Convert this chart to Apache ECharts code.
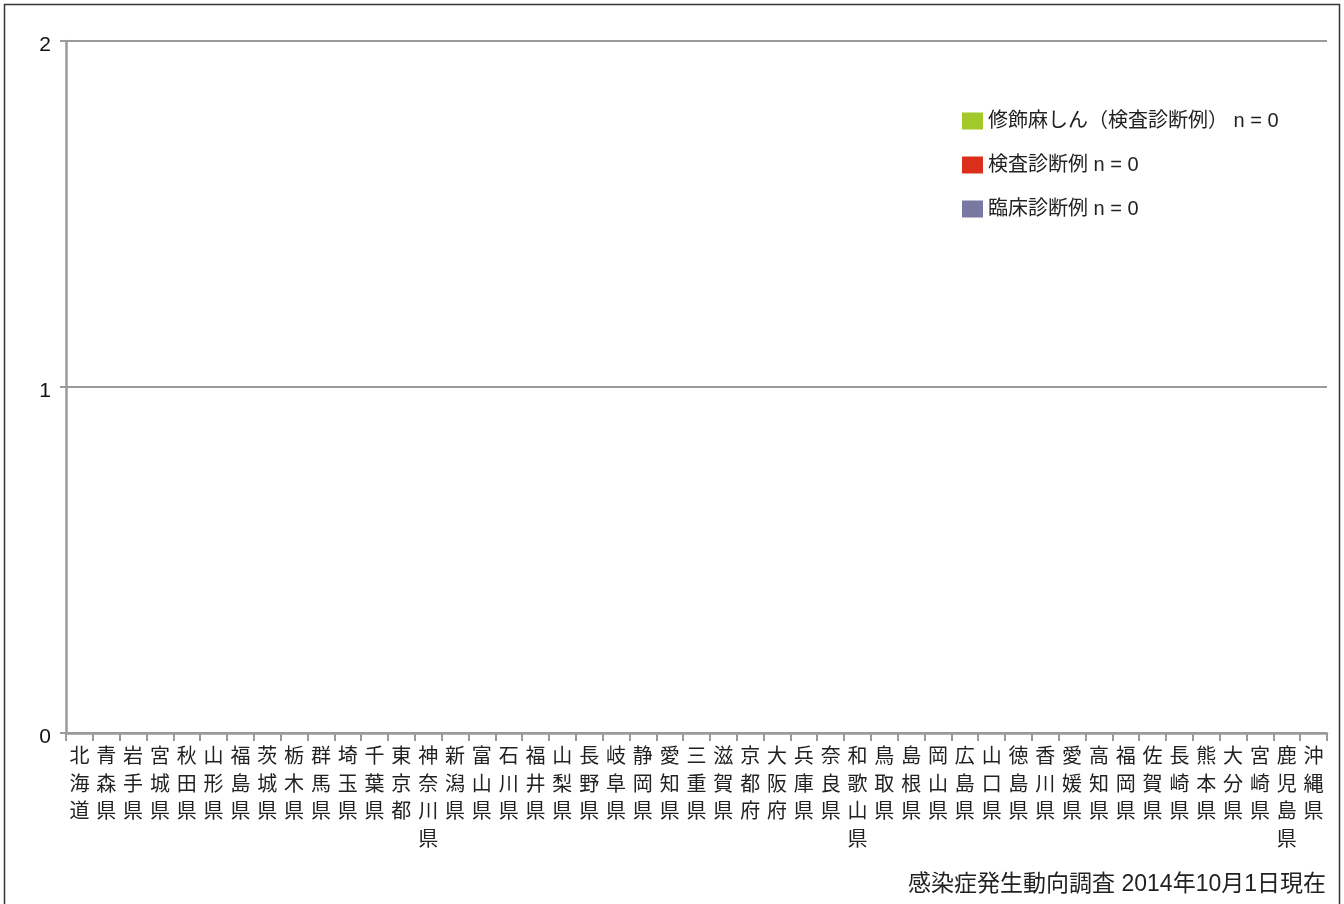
<!DOCTYPE html>
<html><head><meta charset="utf-8">
<script src="https://cdn.jsdelivr.net/npm/echarts@6/dist/echarts.min.js"></script>
<style>html,body{margin:0;padding:0;background:#fff}#c{width:1344px;height:904px}</style>
</head><body><div id="c"></div>
<script>
const categories = ['北海道','青森県','岩手県','宮城県','秋田県','山形県','福島県','茨城県','栃木県','群馬県','埼玉県','千葉県','東京都','神奈川県','新潟県','富山県','石川県','福井県','山梨県','長野県','岐阜県','静岡県','愛知県','三重県','滋賀県','京都府','大阪府','兵庫県','奈良県','和歌山県','鳥取県','島根県','岡山県','広島県','山口県','徳島県','香川県','愛媛県','高知県','福岡県','佐賀県','長崎県','熊本県','大分県','宮崎県','鹿児島県','沖縄県'];
const seriesNames = ['修飾麻しん（検査診断例） n = 0','検査診断例 n = 0','臨床診断例 n = 0'];
const modifiedValues = categories.map(() => 0);
const labValues = categories.map(() => 0);
const clinicalValues = categories.map(() => 0);
const yTicks = [0, 1, 2];
const colors = ['#a3c82a','#db2e1b','#7878a2'];
const FONT = '"Liberation Sans", "Noto Sans CJK JP", sans-serif';
const chart = echarts.init(document.getElementById('c'));
chart.setOption({
  animation: false,
  color: colors,
  textStyle: {fontFamily: FONT},
  graphic: [{type:'rect', shape:{x:4.5,y:4.5,width:1335,height:920}, style:{fill:'none',stroke:'#3a3533',lineWidth:1.5}, silent:true}],
  title: {text:'感染症発生動向調査 2014年10月1日現在', right:13, bottom:3, textStyle:{fontSize:23,fontWeight:'normal',color:'#222',fontFamily:FONT}},
  legend: {orient:'vertical', left:957, top:106, itemWidth:21, itemHeight:17, itemGap:24,
    textStyle:{fontSize:20,lineHeight:20,color:'#222',fontFamily:FONT},
    data: seriesNames.map(n => ({name:n, icon:'rect'}))},
  grid: {left:66, right:17, top:41, bottom:171, containLabel:false},
  xAxis: {type:'category', data:categories, boundaryGap:true,
    axisLine:{lineStyle:{color:'#9a9a9a',width:2.5}},
    axisTick:{show:true,length:8,lineStyle:{color:'#9a9a9a',width:2}},
    axisLabel:{interval:0, margin:11, fontSize:20, lineHeight:27.5, color:'#222', fontFamily:FONT,
      formatter: v => v.split('').join('\n'), verticalAlign:'top'}},
  yAxis: {type:'value', min:yTicks[0], max:yTicks[yTicks.length-1], interval:1,
    axisLine:{show:true,lineStyle:{color:'#9a9a9a',width:2.5}},
    axisTick:{show:true,length:6,lineStyle:{color:'#9a9a9a',width:2}},
    splitLine:{show:true,lineStyle:{color:'#9a9a9a',width:2}},
    axisLabel:{margin:15, color:'#111', fontFamily:FONT,
      formatter: v => '{a|' + v + '}',
      rich:{a:{fontSize:21, color:'#111', fontFamily:FONT, padding:[9,0,0,0]}}}},
  series: [
    {name:seriesNames[0], type:'bar', stack:'a', data:modifiedValues},
    {name:seriesNames[1], type:'bar', stack:'a', data:labValues},
    {name:seriesNames[2], type:'bar', stack:'a', data:clinicalValues}
  ]
});
</script></body></html>
